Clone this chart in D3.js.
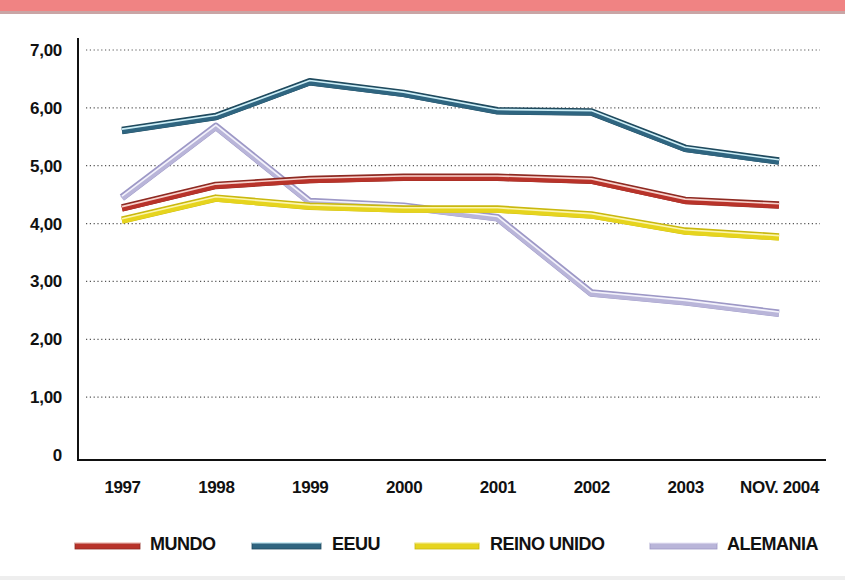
<!DOCTYPE html>
<html><head><meta charset="utf-8">
<script src="https://cdn.jsdelivr.net/npm/d3@7"></script>
<style>body{margin:0;background:#fff}svg{display:block}</style>
</head><body>
<svg id="c" width="845" height="580"></svg>
<script>
const categories = ["1997","1998","1999","2000","2001","2002","2003","NOV. 2004"];
const mundo     = [4.27,4.66,4.76,4.80,4.80,4.75,4.40,4.32];
const eeuu      = [5.61,5.85,6.45,6.25,5.95,5.93,5.30,5.08];
const reinoUnido= [4.06,4.44,4.30,4.25,4.25,4.15,3.87,3.77];
const alemania  = [4.45,5.68,4.38,4.30,4.10,2.80,2.65,2.45];
const yTicks = [0,1,2,3,4,5,6,7];
const tickLabels = ["0","1,00","2,00","3,00","4,00","5,00","6,00","7,00"];
const seriesNames = ["MUNDO","EEUU","REINO UNIDO","ALEMANIA"];

const series = [
  {name:seriesNames[0], values:mundo, outer:"#b8332a", inner:"#f6d2cc", edge:"#8e2a22"},
  {name:seriesNames[1], values:eeuu, outer:"#2f6580", inner:"#cdeef6", edge:"#1f4a5e"},
  {name:seriesNames[2], values:reinoUnido, outer:"#e6d41e", inner:"#fbf5b0", edge:"#c9b80f"},
  {name:seriesNames[3], values:alemania, outer:"#b9b5d9", inner:"#f3f2fb", edge:"#9d98c6"}
];

const svg = d3.select("#c");
// top band
svg.append("rect").attr("x",0).attr("y",0).attr("width",845).attr("height",11).attr("fill","#f08383");
svg.append("rect").attr("x",0).attr("y",11).attr("width",845).attr("height",3).attr("fill","#c9a5a5");
svg.append("rect").attr("x",0).attr("y",576).attr("width",845).attr("height",4).attr("fill","#eeeeee");

const x = d3.scalePoint().domain(categories).range([122,779]);
const y = d3.scaleLinear().domain([0,7]).range([455,50]);
const font = "'Liberation Sans', Arial, sans-serif";

// grid
svg.append("g").selectAll("line").data(yTicks.filter(d=>d>0)).join("line")
  .attr("x1",86).attr("x2",820).attr("y1",d=>y(d)).attr("y2",d=>y(d))
  .attr("stroke","#555").attr("stroke-width",1.2).attr("stroke-dasharray","1.2,2.6");

// y axis
const yAxis = d3.axisLeft(y).tickValues(yTicks).tickSize(0).tickPadding(16)
  .tickFormat((d,i)=>tickLabels[i]);
const gy = svg.append("g").attr("transform","translate(78,0)").call(yAxis);
gy.select(".domain").remove();
gy.selectAll("text").attr("font-family",font).attr("font-weight","bold").attr("font-size",17).attr("fill","#111").attr("letter-spacing","-0.3");
svg.append("line").attr("x1",78).attr("x2",78).attr("y1",38).attr("y2",461).attr("stroke","#111").attr("stroke-width",2);

// x axis
const xAxis = d3.axisBottom(x).tickSize(0).tickPadding(21);
const gx = svg.append("g").attr("transform","translate(0,460)").call(xAxis);
gx.select(".domain").remove();
gx.selectAll("text").attr("font-family",font).attr("font-weight","bold").attr("font-size",17).attr("fill","#111").attr("letter-spacing","-0.4");
svg.append("line").attr("x1",77).attr("x2",826).attr("y1",460).attr("y2",460).attr("stroke","#111").attr("stroke-width",2);

// lines
const line = d3.line().x((d,i)=>x(categories[i])).y(d=>y(d));
const order = [3,2,0,1];
order.forEach(k=>{
  const s = series[k];
  const g = svg.append("g");
  g.append("path").attr("d",line(s.values)).attr("fill","none").attr("stroke",s.edge).attr("stroke-width",7.5).attr("stroke-linejoin","round");
  g.append("path").attr("d",line(s.values)).attr("fill","none").attr("stroke",s.outer).attr("stroke-width",5.5).attr("stroke-linejoin","round").attr("transform","translate(0,0.8)");
  g.append("path").attr("d",line(s.values)).attr("fill","none").attr("stroke",s.inner).attr("stroke-width",1.6).attr("stroke-linejoin","round").attr("transform","translate(0,-1.3)");
});

// legend
const legendPos = [{sx:75,sw:65,tx:150},{sx:252,sw:69,tx:332},{sx:415,sw:64,tx:490},{sx:650,sw:67,tx:727}];
series.forEach((s,i)=>{
  const p = legendPos[i];
  svg.append("rect").attr("x",p.sx).attr("y",543).attr("width",p.sw).attr("height",6).attr("fill",s.outer).attr("stroke",s.edge).attr("stroke-width",0.8);
  svg.append("rect").attr("x",p.sx).attr("y",542).attr("width",p.sw).attr("height",1.5).attr("fill",s.inner);
  svg.append("text").attr("x",p.tx).attr("y",550).text(s.name)
    .attr("font-family",font).attr("font-weight","bold").attr("font-size",18).attr("fill","#111").attr("letter-spacing","-0.5");
});
</script>
</body></html>
